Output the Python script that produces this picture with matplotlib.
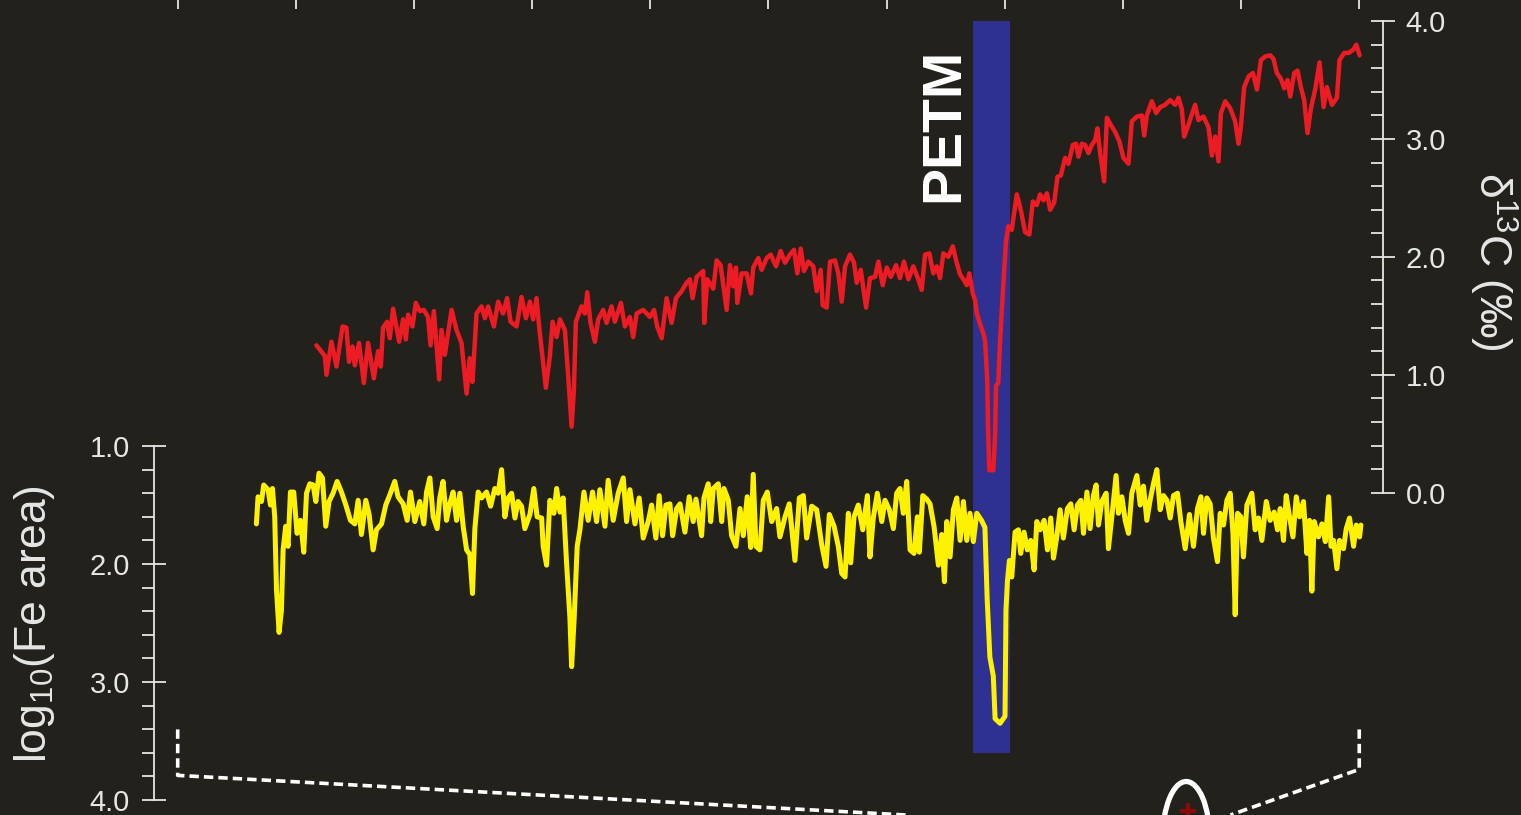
import numpy as np
import matplotlib
matplotlib.use("Agg")
import matplotlib.pyplot as plt
from matplotlib.patches import Ellipse

# --- data (x in units of the top-axis tick spacing, 0..10) ---
d13c_x = [1.174, 1.245, 1.259, 1.301, 1.344, 1.395, 1.428, 1.450, 1.479, 1.499, 1.535, 1.575, 1.611,
          1.660, 1.696, 1.719, 1.738, 1.772, 1.795, 1.823, 1.874, 1.908, 1.931, 1.950, 1.987, 2.015,
          2.049, 2.083, 2.119, 2.140, 2.168, 2.213, 2.233, 2.261, 2.318, 2.360, 2.402, 2.445, 2.472,
          2.495, 2.529, 2.572, 2.600, 2.627, 2.676, 2.712, 2.754, 2.788, 2.817, 2.868, 2.910, 2.947,
          2.981, 3.008, 3.037, 3.059, 3.116, 3.150, 3.173, 3.207, 3.235, 3.277, 3.305, 3.334, 3.353,
          3.370, 3.418, 3.446, 3.466, 3.494, 3.531, 3.559, 3.601, 3.630, 3.672, 3.700, 3.751, 3.785,
          3.827, 3.855, 3.884, 3.940, 3.997, 4.031, 4.058, 4.096, 4.138, 4.180, 4.217, 4.265, 4.307,
          4.335, 4.358, 4.392, 4.448, 4.456, 4.482, 4.533, 4.561, 4.595, 4.623, 4.646, 4.674, 4.702,
          4.725, 4.736, 4.773, 4.815, 4.852, 4.871, 4.914, 4.942, 4.985, 5.019, 5.064, 5.103, 5.140,
          5.182, 5.216, 5.244, 5.273, 5.301, 5.337, 5.379, 5.408, 5.442, 5.459, 5.493, 5.521, 5.563,
          5.591, 5.620, 5.648, 5.690, 5.724, 5.747, 5.781, 5.826, 5.859, 5.902, 5.930, 5.967, 6.001,
          6.035, 6.080, 6.113, 6.147, 6.184, 6.226, 6.268, 6.297, 6.325, 6.362, 6.395, 6.424, 6.452,
          6.480, 6.522, 6.560, 6.588, 6.622, 6.650, 6.678, 6.700, 6.729, 6.749, 6.763, 6.791, 6.819,
          6.833, 6.851, 6.859, 6.869, 6.903, 6.918, 6.926, 6.945, 6.960, 6.988, 7.010, 7.030, 7.059,
          7.102, 7.135, 7.172, 7.208, 7.237, 7.271, 7.299, 7.327, 7.356, 7.384, 7.418, 7.446, 7.474,
          7.511, 7.539, 7.576, 7.604, 7.623, 7.652, 7.680, 7.708, 7.737, 7.765, 7.784, 7.807, 7.841,
          7.864, 7.897, 7.934, 7.970, 8.004, 8.047, 8.075, 8.118, 8.160, 8.180, 8.202, 8.245, 8.281,
          8.315, 8.357, 8.400, 8.442, 8.470, 8.499, 8.518, 8.555, 8.583, 8.611, 8.639, 8.682, 8.724,
          8.753, 8.781, 8.809, 8.829, 8.866, 8.908, 8.950, 8.978, 8.998, 9.026, 9.063, 9.100, 9.134,
          9.168, 9.204, 9.246, 9.274, 9.303, 9.337, 9.365, 9.393, 9.416, 9.450, 9.478, 9.506, 9.534,
          9.562, 9.591, 9.627, 9.664, 9.698, 9.726, 9.769, 9.811, 9.833, 9.873, 9.910, 9.952, 9.975,
          10.003]
d13c_val = [1.25, 1.16, 1.00, 1.28, 1.07, 1.41, 1.40, 1.11, 1.24, 1.08, 1.27, 0.93, 1.27,
            0.97, 1.20, 1.07, 1.40, 1.45, 1.31, 1.56, 1.28, 1.47, 1.30, 1.51, 1.41, 1.61,
            1.54, 1.55, 1.49, 1.25, 1.54, 0.96, 1.38, 1.17, 1.55, 1.38, 1.27, 0.84, 1.14,
            0.94, 1.52, 1.58, 1.48, 1.58, 1.41, 1.62, 1.52, 1.65, 1.45, 1.41, 1.66, 1.48,
            1.62, 1.47, 1.65, 1.41, 0.89, 1.16, 1.45, 1.32, 1.47, 1.38, 0.99, 0.56, 0.87,
            1.45, 1.58, 1.52, 1.70, 1.44, 1.28, 1.47, 1.55, 1.44, 1.58, 1.45, 1.61, 1.41,
            1.49, 1.32, 1.52, 1.55, 1.49, 1.55, 1.41, 1.31, 1.65, 1.44, 1.65, 1.71, 1.78,
            1.81, 1.65, 1.83, 1.88, 1.44, 1.81, 1.73, 1.97, 1.93, 1.72, 1.55, 1.93, 1.75,
            1.91, 1.61, 1.86, 1.86, 1.69, 1.91, 1.99, 1.89, 1.99, 2.02, 1.92, 2.05, 1.95,
            2.02, 2.06, 1.86, 2.07, 1.88, 1.96, 1.92, 1.71, 1.89, 1.59, 1.57, 1.96, 1.97,
            1.86, 1.62, 1.92, 2.02, 1.95, 1.78, 1.89, 1.57, 1.82, 1.83, 1.96, 1.76, 1.91,
            1.83, 1.93, 1.82, 1.96, 1.81, 1.92, 1.81, 1.72, 2.02, 2.03, 1.86, 1.92, 1.82,
            2.03, 2.00, 2.09, 1.97, 1.85, 1.81, 1.76, 1.86, 1.69, 1.63, 1.52, 1.43, 1.35,
            1.29, 0.97, 0.53, 0.19, 0.19, 0.49, 0.91, 0.93, 1.29, 1.77, 2.13, 2.26, 2.23,
            2.53, 2.40, 2.21, 2.19, 2.47, 2.44, 2.53, 2.48, 2.54, 2.40, 2.46, 2.68, 2.69,
            2.84, 2.79, 2.95, 2.96, 2.85, 2.96, 2.95, 2.88, 2.95, 2.99, 3.09, 2.88, 2.64,
            3.18, 3.12, 3.06, 2.98, 2.84, 2.79, 3.15, 3.19, 3.20, 3.03, 3.20, 3.32, 3.22,
            3.27, 3.29, 3.33, 3.29, 3.35, 3.25, 3.02, 3.12, 3.21, 3.29, 3.16, 3.19, 3.10,
            2.86, 3.02, 2.81, 3.22, 3.32, 3.26, 3.15, 2.96, 3.10, 3.44, 3.53, 3.56, 3.42,
            3.67, 3.70, 3.71, 3.68, 3.56, 3.51, 3.43, 3.50, 3.36, 3.56, 3.58, 3.44, 3.33,
            3.05, 3.26, 3.42, 3.65, 3.27, 3.44, 3.29, 3.35, 3.67, 3.73, 3.73, 3.76, 3.80,
            3.71]

fe_x = [0.666, 0.680, 0.709, 0.728, 0.765, 0.785, 0.802, 0.821, 0.836, 0.858, 0.878, 0.892, 0.914,
        0.934, 0.954, 0.982, 1.010, 1.039, 1.067, 1.090, 1.118, 1.146, 1.169, 1.196, 1.225, 1.253,
        1.281, 1.315, 1.349, 1.386, 1.423, 1.462, 1.499, 1.527, 1.555, 1.592, 1.620, 1.654, 1.682,
        1.725, 1.761, 1.789, 1.837, 1.865, 1.908, 1.942, 1.970, 2.007, 2.049, 2.083, 2.106, 2.134,
        2.162, 2.196, 2.218, 2.246, 2.275, 2.303, 2.331, 2.360, 2.388, 2.416, 2.445, 2.472, 2.495,
        2.515, 2.543, 2.572, 2.614, 2.648, 2.684, 2.712, 2.741, 2.769, 2.797, 2.826, 2.854, 2.881,
        2.910, 2.938, 2.981, 3.014, 3.042, 3.080, 3.093, 3.122, 3.150, 3.184, 3.207, 3.235, 3.262,
        3.291, 3.319, 3.334, 3.356, 3.381, 3.404, 3.438, 3.474, 3.511, 3.545, 3.573, 3.616, 3.643,
        3.686, 3.728, 3.771, 3.799, 3.827, 3.870, 3.906, 3.940, 3.982, 4.011, 4.047, 4.075, 4.104,
        4.132, 4.166, 4.189, 4.223, 4.251, 4.293, 4.329, 4.363, 4.386, 4.434, 4.454, 4.490, 4.511,
        4.533, 4.575, 4.604, 4.623, 4.660, 4.688, 4.725, 4.759, 4.787, 4.820, 4.849, 4.871, 4.894,
        4.928, 4.956, 4.990, 5.027, 5.069, 5.097, 5.140, 5.176, 5.224, 5.261, 5.295, 5.323, 5.366,
        5.408, 5.451, 5.487, 5.515, 5.555, 5.591, 5.620, 5.648, 5.676, 5.696, 5.724, 5.760, 5.798,
        5.837, 5.859, 5.887, 5.921, 5.959, 5.986, 6.023, 6.057, 6.085, 6.113, 6.141, 6.170, 6.198,
        6.232, 6.260, 6.277, 6.306, 6.339, 6.367, 6.401, 6.438, 6.466, 6.489, 6.509, 6.537, 6.565,
        6.594, 6.622, 6.650, 6.678, 6.706, 6.734, 6.763, 6.803, 6.832, 6.851, 6.874, 6.903, 6.918,
        6.960, 7.002, 7.010, 7.022, 7.039, 7.059, 7.087, 7.115, 7.135, 7.163, 7.191, 7.220, 7.248,
        7.271, 7.299, 7.333, 7.361, 7.389, 7.412, 7.440, 7.468, 7.496, 7.530, 7.559, 7.587, 7.615,
        7.644, 7.666, 7.695, 7.722, 7.750, 7.773, 7.793, 7.821, 7.858, 7.877, 7.906, 7.942, 7.962,
        7.991, 8.019, 8.047, 8.075, 8.118, 8.146, 8.174, 8.202, 8.230, 8.258, 8.287, 8.315, 8.343,
        8.372, 8.400, 8.428, 8.462, 8.490, 8.527, 8.563, 8.597, 8.631, 8.660, 8.682, 8.710, 8.738,
        8.766, 8.800, 8.823, 8.851, 8.880, 8.908, 8.931, 8.950, 8.970, 8.998, 9.020, 9.049, 9.091,
        9.119, 9.148, 9.176, 9.213, 9.246, 9.280, 9.308, 9.331, 9.359, 9.382, 9.410, 9.439, 9.467,
        9.495, 9.528, 9.557, 9.579, 9.599, 9.619, 9.655, 9.684, 9.713, 9.741, 9.761, 9.783, 9.811,
        9.833, 9.867, 9.890, 9.918, 9.952, 9.975, 10.003, 10.014]
fe_val = [1.66, 1.43, 1.47, 1.33, 1.37, 1.50, 1.36, 1.60, 2.22, 2.58, 2.39, 1.88, 1.68,
          1.85, 1.39, 1.39, 1.74, 1.63, 1.90, 1.40, 1.32, 1.33, 1.47, 1.23, 1.27, 1.68,
          1.47, 1.40, 1.30, 1.39, 1.50, 1.63, 1.66, 1.46, 1.75, 1.46, 1.58, 1.88, 1.71,
          1.66, 1.50, 1.43, 1.30, 1.43, 1.49, 1.63, 1.39, 1.64, 1.47, 1.66, 1.39, 1.27,
          1.60, 1.70, 1.44, 1.30, 1.63, 1.49, 1.39, 1.63, 1.40, 1.68, 1.88, 1.92, 2.25,
          1.70, 1.39, 1.44, 1.39, 1.51, 1.36, 1.40, 1.20, 1.60, 1.44, 1.40, 1.61, 1.47,
          1.51, 1.70, 1.58, 1.36, 1.60, 1.61, 1.85, 2.01, 1.46, 1.57, 1.36, 1.56, 1.44,
          1.99, 2.45, 2.87, 2.45, 1.85, 1.71, 1.39, 1.63, 1.39, 1.64, 1.37, 1.68, 1.29,
          1.63, 1.40, 1.27, 1.64, 1.37, 1.66, 1.44, 1.78, 1.64, 1.50, 1.78, 1.42, 1.76,
          1.50, 1.49, 1.76, 1.53, 1.49, 1.73, 1.43, 1.64, 1.45, 1.76, 1.44, 1.32, 1.64,
          1.36, 1.32, 1.64, 1.36, 1.46, 1.76, 1.85, 1.53, 1.76, 1.43, 1.86, 1.24, 1.85,
          1.88, 1.46, 1.39, 1.64, 1.53, 1.77, 1.60, 1.49, 1.97, 1.44, 1.42, 1.78, 1.51,
          1.54, 1.84, 2.02, 1.58, 1.68, 1.85, 2.08, 2.11, 1.57, 1.99, 1.60, 1.50, 1.71,
          1.42, 1.94, 1.61, 1.40, 1.64, 1.46, 1.54, 1.70, 1.40, 1.36, 1.57, 1.30, 1.88,
          1.91, 1.60, 1.90, 1.42, 1.45, 1.49, 1.68, 2.01, 1.75, 2.15, 1.64, 1.94, 1.54,
          1.44, 1.80, 1.47, 1.80, 1.57, 1.81, 1.57, 1.63, 1.69, 2.30, 2.79, 2.95, 3.31,
          3.35, 3.29, 2.39, 2.15, 1.97, 2.11, 1.73, 1.71, 1.91, 1.73, 1.88, 1.80, 2.05,
          1.64, 1.71, 1.63, 1.88, 1.61, 1.95, 1.77, 1.54, 1.78, 1.53, 1.49, 1.71, 1.50,
          1.46, 1.74, 1.39, 1.70, 1.42, 1.33, 1.67, 1.47, 1.40, 1.87, 1.60, 1.25, 1.57,
          1.43, 1.63, 1.74, 1.40, 1.25, 1.50, 1.34, 1.63, 1.46, 1.32, 1.20, 1.54, 1.42,
          1.46, 1.61, 1.42, 1.40, 1.64, 1.87, 1.58, 1.85, 1.53, 1.43, 1.74, 1.44, 1.49,
          1.78, 1.98, 1.57, 1.67, 1.46, 1.40, 1.74, 2.43, 1.57, 1.60, 1.94, 1.50, 1.40,
          1.71, 1.61, 1.80, 1.47, 1.63, 1.56, 1.71, 1.53, 1.80, 1.42, 1.60, 1.77, 1.43,
          1.60, 1.47, 1.91, 1.63, 2.23, 1.64, 1.77, 1.66, 1.81, 1.43, 1.85, 1.80, 2.04,
          1.80, 1.87, 1.70, 1.61, 1.85, 1.67, 1.77, 1.67]

petm_start, petm_end = 6.732, 7.045
top_ticks = np.arange(0, 11)
d13c_major = [0, 1, 2, 3, 4]
fe_major = [1, 2, 3, 4]

# --- style ---
BG = '#22211c'
FG = '#e6e6e6'
RED = '#ed1c24'
YELLOW = '#fff200'
BLUE = '#2e3192'
plt.rcParams['font.family'] = ['Liberation Sans', 'DejaVu Sans']
plt.rcParams['mathtext.fontset'] = 'custom'
plt.rcParams['mathtext.rm'] = 'Liberation Sans'
plt.rcParams['mathtext.it'] = 'Liberation Sans:italic'

fig = plt.figure(figsize=(15.21, 8.15), dpi=100, facecolor=BG)
ax_fe = fig.add_axes([0, 0, 1, 1])
ax_fe.set_facecolor(BG)
ax_c = ax_fe.twinx()

ax_fe.set_xlim(-1.504, 11.369)
ax_fe.set_ylim(4.127, -2.780)
ax_c.set_ylim(-2.734, 4.179)

for ax in (ax_fe, ax_c):
    for s in ax.spines.values():
        s.set_visible(False)

# PETM band
ax_fe.axvspan(petm_start, petm_end, ymin=1 - 753 / 815, ymax=1 - 21 / 815,
              color=BLUE, lw=0, zorder=0)

ax_fe.plot(fe_x, fe_val, color=YELLOW, lw=3.6, solid_joinstyle='round',
           solid_capstyle='round', zorder=2)
ax_c.plot(d13c_x, d13c_val, color=RED, lw=3.2, solid_joinstyle='round',
          solid_capstyle='round', zorder=2)

# top ticks
ax_fe.xaxis.tick_top()
ax_fe.set_xticks(top_ticks)
ax_fe.tick_params(axis='x', direction='in', length=6.5, width=1.3, color=FG,
                  labeltop=False, labelbottom=False)

# left axis: log10(Fe area), inverted
ax_fe.spines['left'].set_visible(True)
ax_fe.spines['left'].set_position(('axes', 154.3 / 1521))
ax_fe.spines['left'].set_bounds(1, 4)
ax_fe.spines['left'].set_color(FG)
ax_fe.spines['left'].set_linewidth(1.3)
ax_fe.set_yticks(fe_major)
ax_fe.set_yticklabels([f'{v:.1f}' for v in fe_major])
ax_fe.set_yticks(np.arange(1, 4.01, 0.2), minor=True)
ax_fe.tick_params(axis='y', which='major', direction='inout', length=17, width=1.3,
                  color=FG, labelcolor=FG, labelsize=21, pad=9)
ax_fe.tick_params(axis='y', which='minor', direction='out', length=8.5, width=1.3, color=FG)

# right axis: d13C
ax_c.spines['right'].set_visible(True)
ax_c.spines['right'].set_position(('axes', 1382.7 / 1521))
ax_c.spines['right'].set_bounds(0, 4)
ax_c.spines['right'].set_color(FG)
ax_c.spines['right'].set_linewidth(1.3)
ax_c.set_yticks(d13c_major)
ax_c.set_yticklabels([f'{v:.1f}' for v in d13c_major])
ax_c.set_yticks(np.arange(0, 4.01, 0.2), minor=True)
ax_c.tick_params(axis='y', which='major', direction='inout', length=17, width=1.3,
                 color=FG, labelcolor=FG, labelsize=21, pad=8)
ax_c.tick_params(axis='y', which='minor', direction='in', length=8.5, width=1.3, color=FG)

# labels
fig.text(35 / 1521, 1 - 624 / 815, r'log$_{10}$(Fe area)', rotation=90, color=FG,
         fontsize=32, ha='center', va='center')
fig.text(1493 / 1521, 1 - 261 / 815, r'δ$^{13}$C (‰)', rotation=-90, color=FG,
         fontsize=32, ha='center', va='center')
fig.text(944 / 1521, 1 - 125 / 815, 'PETM', rotation=90, color='white',
         fontsize=40, fontweight='bold', ha='center', va='center')

# dashed connector lines towards the panel below
dash = dict(color='white', lw=2.6, dashes=(2.6, 1.4), clip_on=False, zorder=3)
ax_c.plot([0, 0, 6.16], [-2.008, -2.398, -2.734], **dash)
ax_c.plot([10, 10, 8.91], [-2.008, -2.347, -2.734], **dash)

# loupe outline and marker below
ax_c.add_patch(Ellipse((8.535, -2.94), 0.40, 0.98, fill=False, ec='white', lw=3.8, zorder=3))
ax_c.plot([8.552], [-2.70], marker='+', color='#8b0a0a', ms=12, mew=3, zorder=3)

fig.savefig('out.png', dpi=100, facecolor=BG)
